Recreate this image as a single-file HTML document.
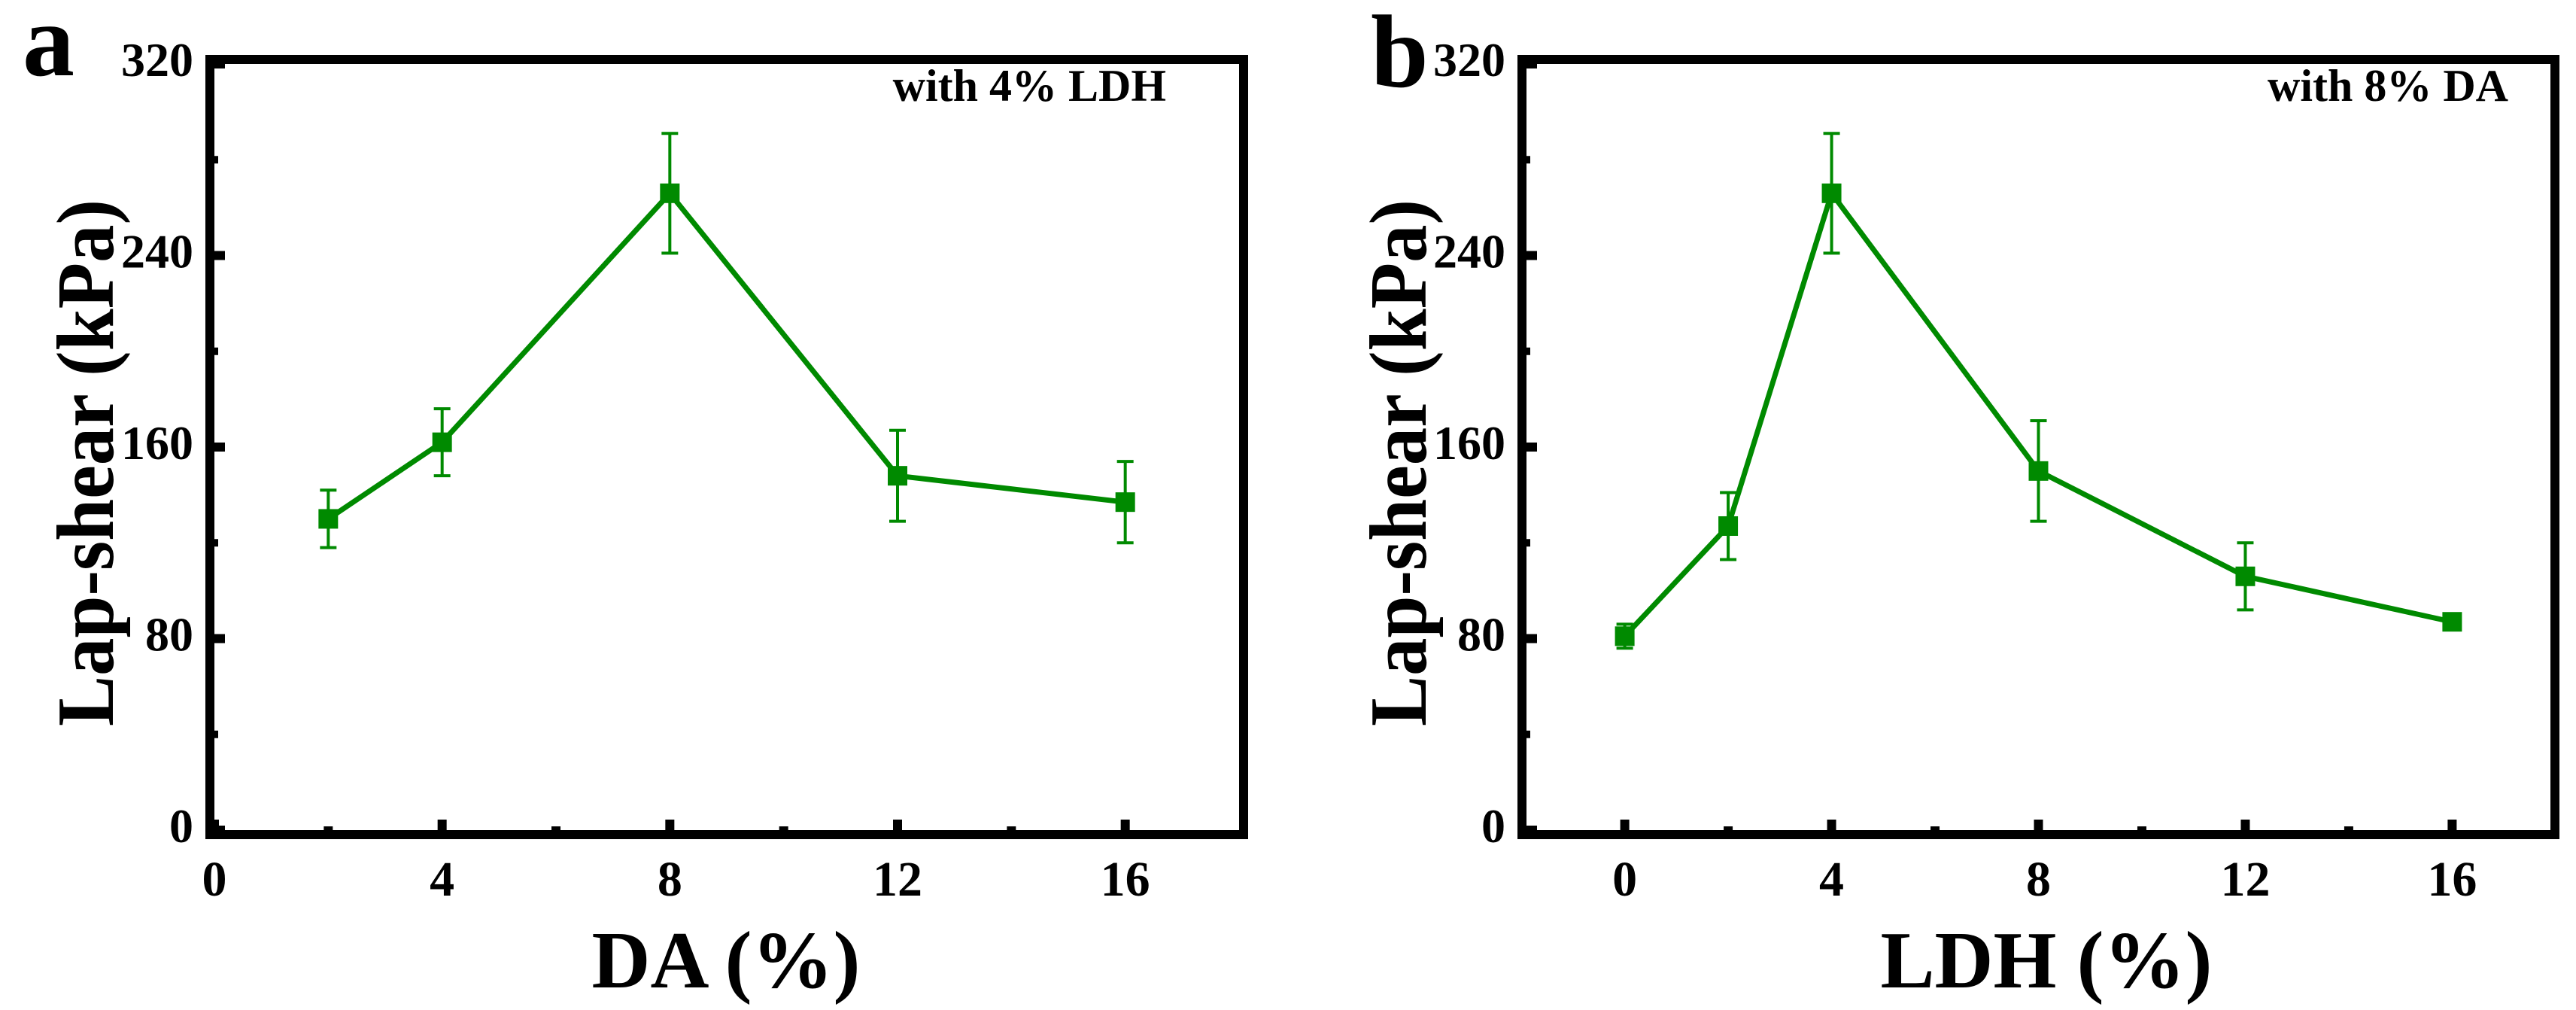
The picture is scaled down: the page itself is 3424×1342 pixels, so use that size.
<!DOCTYPE html>
<html><head><meta charset="utf-8">
<style>
html,body{margin:0;padding:0;background:#fff;}
svg{display:block;font-family:"Liberation Serif",serif;font-weight:bold;}
</style></head>
<body>
<svg id="fig" width="3424" height="1342" viewBox="0 0 3424 1342" xmlns="http://www.w3.org/2000/svg"></svg>
<script>
// Panel a data
const aX = [2, 4, 8, 12, 16];
const aY = [130, 162, 266, 148, 137];
const aErr = [12, 14, 25, 19, 17];
const aXTicks = [0, 4, 8, 12, 16];
// Panel b data
const bX = [0, 2, 4, 8, 12, 16];
const bY = [81, 127, 266, 150, 106, 87];
const bErr = [5, 14, 25, 21, 14, 3];
const bXTicks = [0, 4, 8, 12, 16];
// Shared y ticks
const yTicks = [0, 80, 160, 240, 320];
const yMinor = [40, 120, 200, 280];

const NS = "http://www.w3.org/2000/svg";
const svg = document.getElementById('fig');
function mk(tag, attrs, parent){
  const e = document.createElementNS(NS, tag);
  for (const k in attrs) e.setAttribute(k, attrs[k]);
  (parent||svg).appendChild(e);
  return e;
}
const GREEN = "#008a00";

function panel(cfg){
  const g = mk('g', {});
  
  
  const L = cfg.left, R = cfg.right, T = 85, B = 1103;
  const sx = v => L + (v - cfg.xmin) / (cfg.xmax - cfg.xmin) * (R - L);
  const sy = v => B - v / 320 * (B - T);

  const frame = mk('rect', {x: L - 6, y: T - 6, width: R - L + 12, height: B - T + 12, fill: 'none', stroke: '#000', 'stroke-width': 12}, g);
  
  

  for (let v = cfg.xTicks[0]; v <= 16; v += 2) {
    const major = cfg.xTicks.includes(v);
    const t = mk('line', {x1: sx(v), x2: sx(v), y1: B, y2: B - (major ? 14 : 5), stroke: '#000', 'stroke-width': 12}, g);
    
    
  }
  cfg.xTicks.forEach(v => {
    const t = mk('text', {x: sx(v), y: 1190, 'font-size': 66, 'text-anchor': 'middle'}, g);
    t.textContent = v;
    
    
  });
  yTicks.forEach(v => {
    const t = mk('line', {x1: L, x2: L + 14, y1: sy(v), y2: sy(v), stroke: '#000', 'stroke-width': 12}, g);
    
    
    const lb = mk('text', {x: L - 28, y: sy(v) + 16, 'font-size': 64, 'text-anchor': 'end'}, g);
    lb.textContent = v;
    
    
  });
  yMinor.forEach(v => {
    const t = mk('line', {x1: L, x2: L + 5, y1: sy(v), y2: sy(v), stroke: '#000', 'stroke-width': 10}, g);
    
    
  });

  const xt = mk('text', {x: cfg.xTitleX, y: 1312, 'font-size': 108, 'text-anchor': 'middle'}, g);
  xt.textContent = cfg.xTitle;
  
  
  const yt = mk('text', {x: 0, y: 0, 'font-size': 108, 'text-anchor': 'middle', textLength: 700, lengthAdjust: 'spacingAndGlyphs', transform: `translate(${cfg.yTitleX},615) rotate(-90)`}, g);
  yt.textContent = 'Lap-shear (kPa)';
  
  

  const pl = mk('text', {x: cfg.letterX, y: cfg.letterY, 'font-size': 138}, g);
  pl.textContent = cfg.letter;
  
  

  const an = mk('text', {x: cfg.noteRight, y: 134, 'font-size': 60, 'text-anchor': 'end'}, g);
  an.textContent = cfg.note;
  
  

  const pts = cfg.xs.map((x, i) => sx(x) + ',' + sy(cfg.ys[i])).join(' ');
  const pl2 = mk('polyline', {points: pts, fill: 'none', stroke: GREEN, 'stroke-width': 7, 'stroke-linejoin': 'round'}, g);
  
  

  cfg.xs.forEach((x, i) => {
    const cx = sx(x), cy = sy(cfg.ys[i]);
    const e = cfg.err[i];
    const eb = mk('path', {d: `M${cx},${sy(cfg.ys[i]+e)}V${sy(cfg.ys[i]-e)}M${cx-11},${sy(cfg.ys[i]+e)}H${cx+11}M${cx-11},${sy(cfg.ys[i]-e)}H${cx+11}`, stroke: GREEN, 'stroke-width': 4, fill: 'none'}, g);
    
    
    const m = mk('rect', {x: cx - 13, y: cy - 13, width: 26, height: 26, fill: GREEN}, g);
    
    
  });
}

panel({name: 'panel-a', left: 285, right: 1647, xmin: 0, xmax: 18, xTicks: aXTicks,
  xs: aX, ys: aY, err: aErr, xTitle: 'DA (%)', xTitleX: 965, yTitleX: 150,
  letter: 'a', letterX: 30, letterY: 100, note: 'with 4% LDH', noteRight: 1550});
panel({name: 'panel-b', left: 2029, right: 3390, xmin: -1.9, xmax: 17.9, xTicks: bXTicks,
  xs: bX, ys: bY, err: bErr, xTitle: 'LDH (%)', xTitleX: 2720, yTitleX: 1895,
  letter: 'b', letterX: 1822, letterY: 115, note: 'with 8% DA', noteRight: 3334});
</script>
</body></html>
